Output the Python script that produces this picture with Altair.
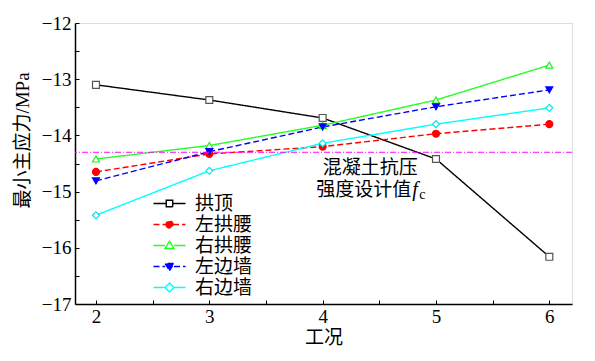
import altair as alt
import pandas as pd

# ---------------- data ----------------
conditions = [2, 3, 4, 5, 6]
series_names = ["拱顶", "左拱腰", "右拱腰", "左边墙", "右边墙"]
gongding = [-13.10, -13.37, -13.69, -14.42, -16.16]
zuo_gongyao = [-14.65, -14.33, -14.20, -13.97, -13.80]
you_gongyao = [-14.42, -14.18, -13.82, -13.37, -12.75]
zuo_bianqiang = [-14.81, -14.29, -13.85, -13.49, -13.19]
you_bianqiang = [-15.42, -14.63, -14.14, -13.80, -13.51]
fc_value = [-14.3]

x_major = [2, 3, 4, 5, 6]
x_minor = [2, 2.5, 3, 3.5, 4, 4.5, 5, 5.5, 6]
y_major = [-17, -16, -15, -14, -13, -12]
y_minor = [-17, -16.5, -16, -15.5, -15, -14.5, -14, -13.5, -13, -12.5, -12]

annotation_line1 = "混凝土抗压"
annotation_line2 = "强度设计值"
annotation_symbol = "f"
annotation_sub = "c"

# ---------------- styles ----------------
W, H = 497, 281
SERIF = "Liberation Serif"
CJK = "'Liberation Serif', 'Noto Sans CJK SC'"
line_colors = ["#000000", "#ff0000", "#22ff22", "#0000ff", "#00ffff"]
marker_stroke = ["#555555", "#ff0000", "#22ee22", "#0000ff", "#00e8f0"]
marker_fill = ["#ffffff", "#ff0000", "#ffffff", "#0000ff", "#ffffff"]
dash_patterns = [[1, 0], [6, 3], [1, 0], [6, 3], [1, 0]]
marker_shapes = ["square", "circle", "triangle-up", "triangle-down", "diamond"]
legend_shapes = [
    "M-3.2,0H-0.65M0.65,0H3.2M-0.65,-0.65H0.65V0.65H-0.65Z",
    "M-3.2,0H-0.7M0.7,0H3.2M-0.7,0A0.7,0.7 0 1,0 0.7,0A0.7,0.7 0 1,0 -0.7,0Z",
    "M-3.2,0H-0.9M0.9,0H3.2M0,-0.85L0.9,0.6L-0.9,0.6Z",
    "M-3.2,0H-0.9M0.9,0H3.2M0,0.85L0.9,-0.6L-0.9,-0.6Z",
    "M-3.2,0H-0.9M0.9,0H3.2M-0.9,0L0,-0.9L0.9,0L0,0.9Z",
]

all_values = [gongding, zuo_gongyao, you_gongyao, zuo_bianqiang, you_bianqiang]
rows = []
for name, vals in zip(series_names, all_values):
    for c, v in zip(conditions, vals):
        rows.append({"cond": c, "stress": v, "series": name})
df = pd.DataFrame(rows)

x_scale = alt.Scale(domain=[1.815, 6.2], nice=False, zero=False)
y_scale = alt.Scale(domain=[-17, -12], nice=False, zero=False)

main_x_axis = alt.Axis(
    orient="bottom",
    values=x_major, format="d", ticks=False, grid=False, domain=True,
    domainColor="black", domainWidth=1.5, labelFont=SERIF, labelFontSize=19,
    labelColor="black", labelPadding=3, title="工况", titleFont=CJK,
    titleFontSize=19, titleFontWeight="normal", titleColor="black",
    titleY=33, titleBaseline="middle",
)
main_y_axis = alt.Axis(
    orient="left",
    values=y_major, format="d", ticks=False, grid=False, domain=True,
    domainColor="black", domainWidth=1.5, labelFont=SERIF, labelFontSize=19,
    labelColor="black", labelPadding=4, title="最小主应力/MPa", titleFont=CJK,
    titleFontSize=19, titleFontWeight="normal", titleColor="black",
    titleX=-53, titleY=117, titleBaseline="middle", titleAngle=270,
)
minor_x_axis = alt.Axis(
    orient="top", offset=-H, values=x_minor, labels=False, domain=False,
    ticks=True, tickSize=4, tickColor="black", tickWidth=1, grid=False, title=None,
)
minor_y_axis = alt.Axis(
    orient="right", offset=-W, values=y_minor, labels=False, domain=False,
    ticks=True, tickSize=4, tickColor="black", tickWidth=1, grid=False, title=None,
)

base = alt.Chart(df)

lines = base.mark_line(strokeWidth=1.4).encode(
    x=alt.X("cond:Q", scale=x_scale, axis=main_x_axis),
    y=alt.Y("stress:Q", scale=y_scale, axis=main_y_axis),
    color=alt.Color("series:N", scale=alt.Scale(domain=series_names, range=line_colors), legend=None),
    strokeDash=alt.StrokeDash("series:N", scale=alt.Scale(domain=series_names, range=dash_patterns), legend=None),
)

points = base.mark_point(size=48, strokeWidth=1.2, opacity=1, filled=True).encode(
    x=alt.X("cond:Q", scale=x_scale, axis=minor_x_axis),
    y=alt.Y("stress:Q", scale=y_scale, axis=minor_y_axis),
    shape=alt.Shape("series:N", scale=alt.Scale(domain=series_names, range=marker_shapes), legend=None),
    fill=alt.Fill("series:N", scale=alt.Scale(domain=series_names, range=marker_fill), legend=None),
    stroke=alt.Stroke("series:N", scale=alt.Scale(domain=series_names, range=marker_stroke), legend=None),
)

leg = dict(
    orient="none", legendX=85, legendY=171, title=None, labelFont=CJK,
    labelFontSize=19, labelColor="black", symbolSize=100, symbolStrokeWidth=1.4,
    rowPadding=1, labelOffset=16, padding=0,
)
legend_layer = base.transform_filter("false").mark_point(
    filled=True, opacity=1, strokeWidth=1.4
).encode(
    shape=alt.Shape("series:N", scale=alt.Scale(domain=series_names, range=legend_shapes), legend=alt.Legend(**leg)),
    fill=alt.Fill("series:N", scale=alt.Scale(domain=series_names, range=marker_fill), legend=alt.Legend(**leg)),
    stroke=alt.Stroke("series:N", scale=alt.Scale(domain=series_names, range=line_colors), legend=alt.Legend(**leg)),
    strokeDash=alt.StrokeDash("series:N", scale=alt.Scale(domain=series_names, range=dash_patterns), legend=alt.Legend(**leg)),
)

fc_df = pd.DataFrame({"fc": fc_value})
fc_rule = alt.Chart(fc_df).mark_rule(color="#ff00ff", strokeWidth=1, strokeDash=[6, 2, 1, 2]).encode(
    y=alt.Y("fc:Q", scale=y_scale, axis=None),
)

ann_x = 4.42
ann_df = pd.DataFrame({"x": [ann_x], "y1": [-14.58], "y2": [-14.97]})
ax = alt.X("x:Q", scale=x_scale, axis=None)
ann1 = alt.Chart(ann_df).mark_text(font=CJK, fontSize=19, color="black", align="center", baseline="middle").encode(
    x=ax, y=alt.Y("y1:Q", scale=y_scale, axis=None), text=alt.value(annotation_line1)
)
ann2 = alt.Chart(ann_df).mark_text(font=CJK, fontSize=19, color="black", align="right", baseline="middle", dx=41).encode(
    x=ax, y=alt.Y("y2:Q", scale=y_scale, axis=None), text=alt.value(annotation_line2)
)
ann3 = alt.Chart(ann_df).mark_text(font=SERIF, fontSize=20, fontStyle="italic", color="black", align="left", baseline="middle", dx=42).encode(
    x=ax, y=alt.Y("y2:Q", scale=y_scale, axis=None), text=alt.value(annotation_symbol)
)
ann4 = alt.Chart(ann_df).mark_text(font=SERIF, fontSize=14, color="black", align="left", baseline="middle", dx=49, dy=5).encode(
    x=ax, y=alt.Y("y2:Q", scale=y_scale, axis=None), text=alt.value(annotation_sub)
)

chart = alt.layer(
    lines, points, fc_rule, legend_layer, ann1, ann2, ann3, ann4
).resolve_scale(
    shape="independent", fill="independent", stroke="independent", strokeDash="independent"
).resolve_axis(
    x="independent", y="independent"
).properties(
    width=W, height=H,
    autosize=alt.AutoSizeParams(type="none"),
    padding={"left": 67, "top": 15, "right": 7, "bottom": 50},
).configure_view(stroke=None).configure(background="white")

chart.save("out.html", embed_options={"renderer": "svg", "actions": False})
